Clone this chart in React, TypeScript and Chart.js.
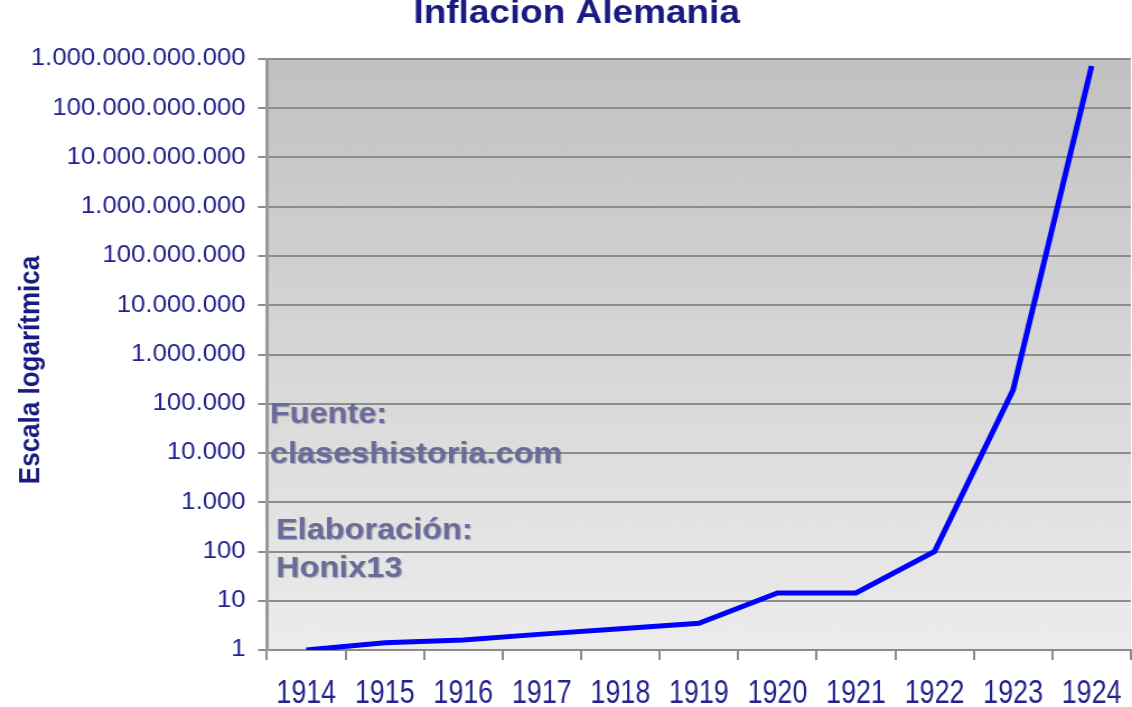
import React, { useEffect, useRef } from "react";
import { Chart, registerables } from "chart.js";

Chart.register(...registerables);

const years = ["1914", "1915", "1916", "1917", "1918", "1919", "1920", "1921", "1922", "1923", "1924"];
const priceIndex = [1, 1.4, 1.6, 2.1, 2.7, 3.5, 14.4, 14.4, 100, 190000, 7.2e11];
const yTickValues = [1, 10, 100, 1e3, 1e4, 1e5, 1e6, 1e7, 1e8, 1e9, 1e10, 1e11, 1e12];
const titleText = "Inflacion Alemania";
const yAxisTitle = "Escala logarítmica";
const noteSource = ["Fuente:", "claseshistoria.com"];
const noteAuthor = ["Elaboración:", "Honix13"];

const STRETCH = 1.12;
const OUT_W = 1132;
const OUT_H = 707;
const CW = Math.round(OUT_W / STRETCH);
const FONT = '"Liberation Sans", Arial, sans-serif';
const NAVY = "#22228c";

function fmt(v: number): string {
  return Math.round(v).toString().replace(/\B(?=(\d{3})+(?!\d))/g, ".");
}

const decorPlugin = {
  id: "decor",
  beforeDraw(chart: any) {
    const { ctx, chartArea } = chart;
    const g = ctx.createLinearGradient(0, chartArea.top, 0, chartArea.bottom);
    g.addColorStop(0, "#c1c1c1");
    g.addColorStop(1, "#ececec");
    ctx.save();
    ctx.fillStyle = g;
    ctx.fillRect(chartArea.left, chartArea.top, chartArea.right - chartArea.left, chartArea.bottom - chartArea.top);
    ctx.restore();
  },
  afterDraw(chart: any) {
    const { ctx } = chart;
    ctx.save();
    // title
    ctx.fillStyle = "#1a1a80";
    ctx.font = `bold 33px ${FONT}`;
    ctx.textAlign = "center";
    ctx.textBaseline = "alphabetic";
    ctx.fillText(titleText, 515, 23);
    // y axis title
    ctx.save();
    ctx.translate(28, 370);
    ctx.rotate(-Math.PI / 2);
    ctx.font = `bold 26px ${FONT}`;
    ctx.textBaseline = "middle";
    ctx.fillText(yAxisTitle, 0, 0);
    ctx.restore();
    // x tick labels (tall, narrow)
    const xs = chart.scales.x;
    ctx.fillStyle = NAVY;
    ctx.font = `24px ${FONT}`;
    ctx.textAlign = "center";
    ctx.textBaseline = "alphabetic";
    years.forEach((y, i) => {
      const px = xs.getPixelForValue(i);
      ctx.save();
      ctx.translate(px, 703);
      ctx.scale(1, 1.4);
      ctx.fillText(y, 0, 0);
      ctx.restore();
    });
    // notes
    ctx.font = `bold 29px ${FONT}`;
    ctx.textAlign = "left";
    ctx.textBaseline = "middle";
    ctx.shadowColor = "rgba(60,60,60,0.35)";
    ctx.shadowOffsetX = 1;
    ctx.shadowOffsetY = 1;
    ctx.shadowBlur = 1;
    ctx.fillStyle = "#6a6a9c";
    ctx.fillText(noteSource[0], 241, 415);
    ctx.fillText(noteSource[1], 241, 455);
    ctx.fillText(noteAuthor[0], 246.5, 531);
    ctx.fillText(noteAuthor[1], 246.5, 569);
    ctx.restore();
  },
};

export default function App() {
  const ref = useRef<HTMLCanvasElement | null>(null);
  useEffect(() => {
    if (!ref.current) return;
    const chart = new Chart(ref.current, {
      type: "line",
      data: {
        labels: years,
        datasets: [
          {
            data: priceIndex,
            borderColor: "#0000ff",
            borderWidth: 5,
            pointRadius: 0,
            tension: 0,
            fill: false,
          },
        ],
      },
      options: {
        animation: false,
        responsive: false,
        devicePixelRatio: 1,
        layout: { padding: { top: 59, right: 1, left: 0, bottom: 0 } },
        plugins: {
          legend: { display: false },
          tooltip: { enabled: false },
          title: { display: false },
        },
        scales: {
          x: {
            type: "category",
            offset: true,
            grid: {
              offset: true,
              drawOnChartArea: false,
              drawTicks: true,
              tickLength: 10,
              color: "#8c8c8c",
              lineWidth: 2,
            },
            border: { display: true, color: "#8c8c8c", width: 2 },
            ticks: { display: false, autoSkip: false },
            afterFit: (s: any) => {
              s.height = OUT_H - 650;
            },
          },
          y: {
            type: "logarithmic",
            min: 1,
            max: 1e12,
            afterBuildTicks: (s: any) => {
              s.ticks = yTickValues.map((v) => ({ value: v }));
            },
            afterFit: (s: any) => {
              s.width = 238.4;
            },
            grid: {
              color: "#8c8c8c",
              lineWidth: 2,
              tickLength: 8,
            },
            border: { display: true, color: "#9a9a9a", width: 3 },
            ticks: {
              color: NAVY,
              padding: 11,
              font: { family: FONT, size: 23 },
              callback: (v: any) => fmt(Number(v)),
            },
          },
        },
      },
      plugins: [decorPlugin],
    } as any);
    return () => chart.destroy();
  }, []);
  return (
    <div style={{ position: "absolute", left: 0, top: 0, width: OUT_W, height: OUT_H, background: "#fff" }}>
      <canvas
        ref={ref}
        width={CW}
        height={OUT_H}
        style={{ width: OUT_W + "px", height: OUT_H + "px", display: "block" }}
      />
    </div>
  );
}
